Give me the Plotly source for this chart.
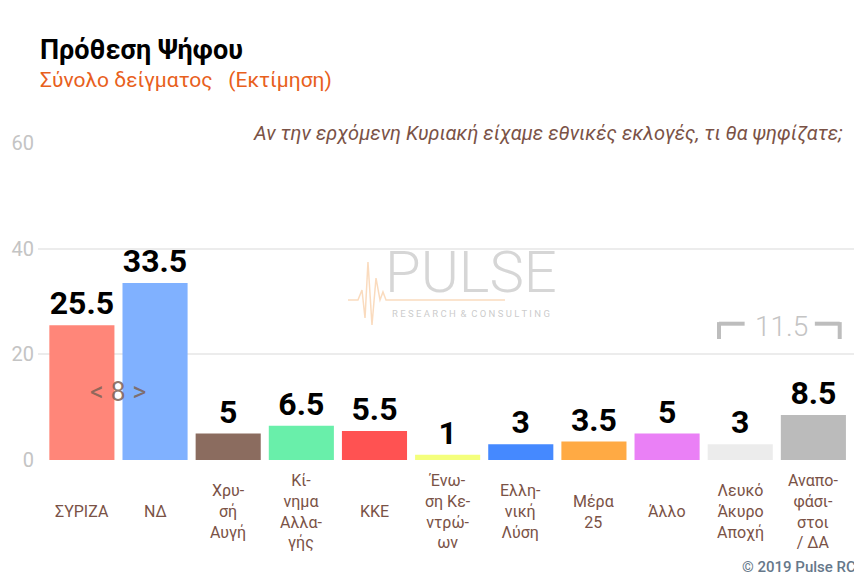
import plotly.graph_objects as go

# data
parties = ["ΣΥΡΙΖΑ", "ΝΔ", "Χρυ-<br>σή<br>Αυγή", "Κί-<br>νημα<br>Αλλα-<br>γής", "ΚΚΕ",
           "Ένω-<br>ση Κε-<br>ντρώ-<br>ων", "Ελλη-<br>νική<br>Λύση", "Μέρα<br>25", "Άλλο",
           "Λευκό<br>Άκυρο<br>Αποχή", "Αναπο-<br>φάσι-<br>στοι<br>/ ΔΑ"]
votes = [25.5, 33.5, 5, 6.5, 5.5, 1, 3, 3.5, 5, 3, 8.5]
bar_colors = ["#ff8679", "#80b1ff", "#8b6c5f", "#69efaa", "#ff5252", "#f4ff7c",
              "#4589ff", "#ffaa44", "#ea80f6", "#ececec", "#bbbbbb"]
y_ticks = [0, 20, 40, 60]

FONT = "Roboto, sans-serif"
BROWN = "#7a5246"

x_idx = list(range(len(parties)))

fig = go.Figure()
fig.add_trace(go.Bar(
    x=x_idx,
    y=votes,
    marker=dict(color=bar_colors, line=dict(width=0)),
    width=0.89,
    text=[f"{v:g}" for v in votes],
    textposition="outside",
    constraintext="none",
    textfont=dict(family=FONT, size=32, color="black", weight="bold"),
    cliponaxis=False,
    hoverinfo="skip",
))

# page body has an 8px margin, so the figure is 8px smaller than the window
fig.update_layout(
    width=854,
    height=577,
    plot_bgcolor="white",
    paper_bgcolor="white",
    showlegend=False,
    margin=dict(l=30, r=4, t=135, b=125),
    font=dict(family=FONT),
    xaxis=dict(range=[-0.6, 10.61], showticklabels=False, showgrid=False,
               zeroline=False, showline=False, fixedrange=True),
    yaxis=dict(range=[0, 60], tickvals=y_ticks, showgrid=True, gridcolor="#ececec",
               gridwidth=1.5, zeroline=False, showline=False,
               tickfont=dict(family=FONT, size=20, color="#c4c4c4"),
               ticks="", ticklabelstandoff=3),
)

annotations = []

# category labels under the bars
for i, name in enumerate(parties):
    annotations.append(dict(x=i, xref="x", y=-0.163, yref="paper", text=name,
                            showarrow=False, xanchor="center", yanchor="middle",
                            font=dict(family=FONT, size=16, color=BROWN)))

# titles
annotations.append(dict(x=0, xref="paper", y=1.293, yref="paper", xanchor="left", yanchor="middle",
                        text="<b>Πρόθεση Ψήφου</b>", showarrow=False,
                        font=dict(family=FONT, size=27, color="black")))
annotations.append(dict(x=0, xref="paper", y=1.199, yref="paper", xanchor="left", yanchor="middle",
                        text="Σύνολο δείγματος   (Εκτίμηση)", showarrow=False,
                        font=dict(family=FONT, size=21, color="#e8601c")))
annotations.append(dict(x=0.984, xref="paper", y=1.032, yref="paper", xanchor="right", yanchor="middle",
                        text="<i>Αν την ερχόμενη Κυριακή είχαμε εθνικές εκλογές, τι θα ψηφίζατε;</i>",
                        showarrow=False, font=dict(family=FONT, size=20, color=BROWN)))

# gap annotations
annotations.append(dict(x=0.5, xref="x", y=12.8, yref="y", text="< 8 >", showarrow=False,
                        font=dict(family=FONT, size=27, color="rgba(125,98,86,0.85)")))
annotations.append(dict(x=9.56, xref="x", y=25.3, yref="y", text="11.5", showarrow=False,
                        font=dict(family=FONT, size=28, color="#c4c4c4", weight=300)))

# watermark
annotations.append(dict(x=(471 - 38) / 820, xref="paper", y=(460 - 272) / 317, yref="paper",
                        text="PULSE", showarrow=False,
                        font=dict(family=FONT, size=58, color="rgba(200,200,200,0.75)",
                                  weight=300)))
annotations.append(dict(x=(471 - 38) / 820, xref="paper", y=(460 - 313) / 317, yref="paper",
                        text="R E S E A R C H  &  C O N S U L T I N G", showarrow=False,
                        font=dict(family=FONT, size=9.5, color="rgba(190,190,190,0.8)")))

# copyright
annotations.append(dict(x=1, xref="paper", y=-0.3375, yref="paper", xanchor="right", yanchor="middle",
                        text="© 2019 Pulse RC", showarrow=False,
                        font=dict(family=FONT, size=15, color="#66788a", weight=500)))

fig.update_layout(annotations=annotations)

# bracket round the "11.5"
grey = "#bdbdbd"
br = dict(type="line", xref="x", yref="y", line=dict(color=grey, width=4))
fig.add_shape(x0=8.71, x1=8.71, y0=22.9, y1=26.1, **br)
fig.add_shape(x0=8.71, x1=9.06, y0=25.8, y1=25.8, **br)
fig.add_shape(x0=10.02, x1=10.36, y0=25.8, y1=25.8, **br)
fig.add_shape(x0=10.36, x1=10.36, y0=22.9, y1=26.1, **br)


# heartbeat line of the logo, in window pixels converted to paper
def px(xp, yp):
    return (xp - 38) / 820, (460 - yp) / 317


pts = [(348, 300), (358, 300), (362, 290), (365, 318), (368, 262), (372, 325),
       (376, 278), (380, 300), (383, 292), (386, 300), (505, 300)]
path = "M " + " L ".join(f"{px(a, b)[0]:.4f},{px(a, b)[1]:.4f}" for a, b in pts)
fig.add_shape(type="path", xref="paper", yref="paper", path=path,
              line=dict(color="rgba(245,175,110,0.45)", width=1.5))

fig.write_html("out.html")
